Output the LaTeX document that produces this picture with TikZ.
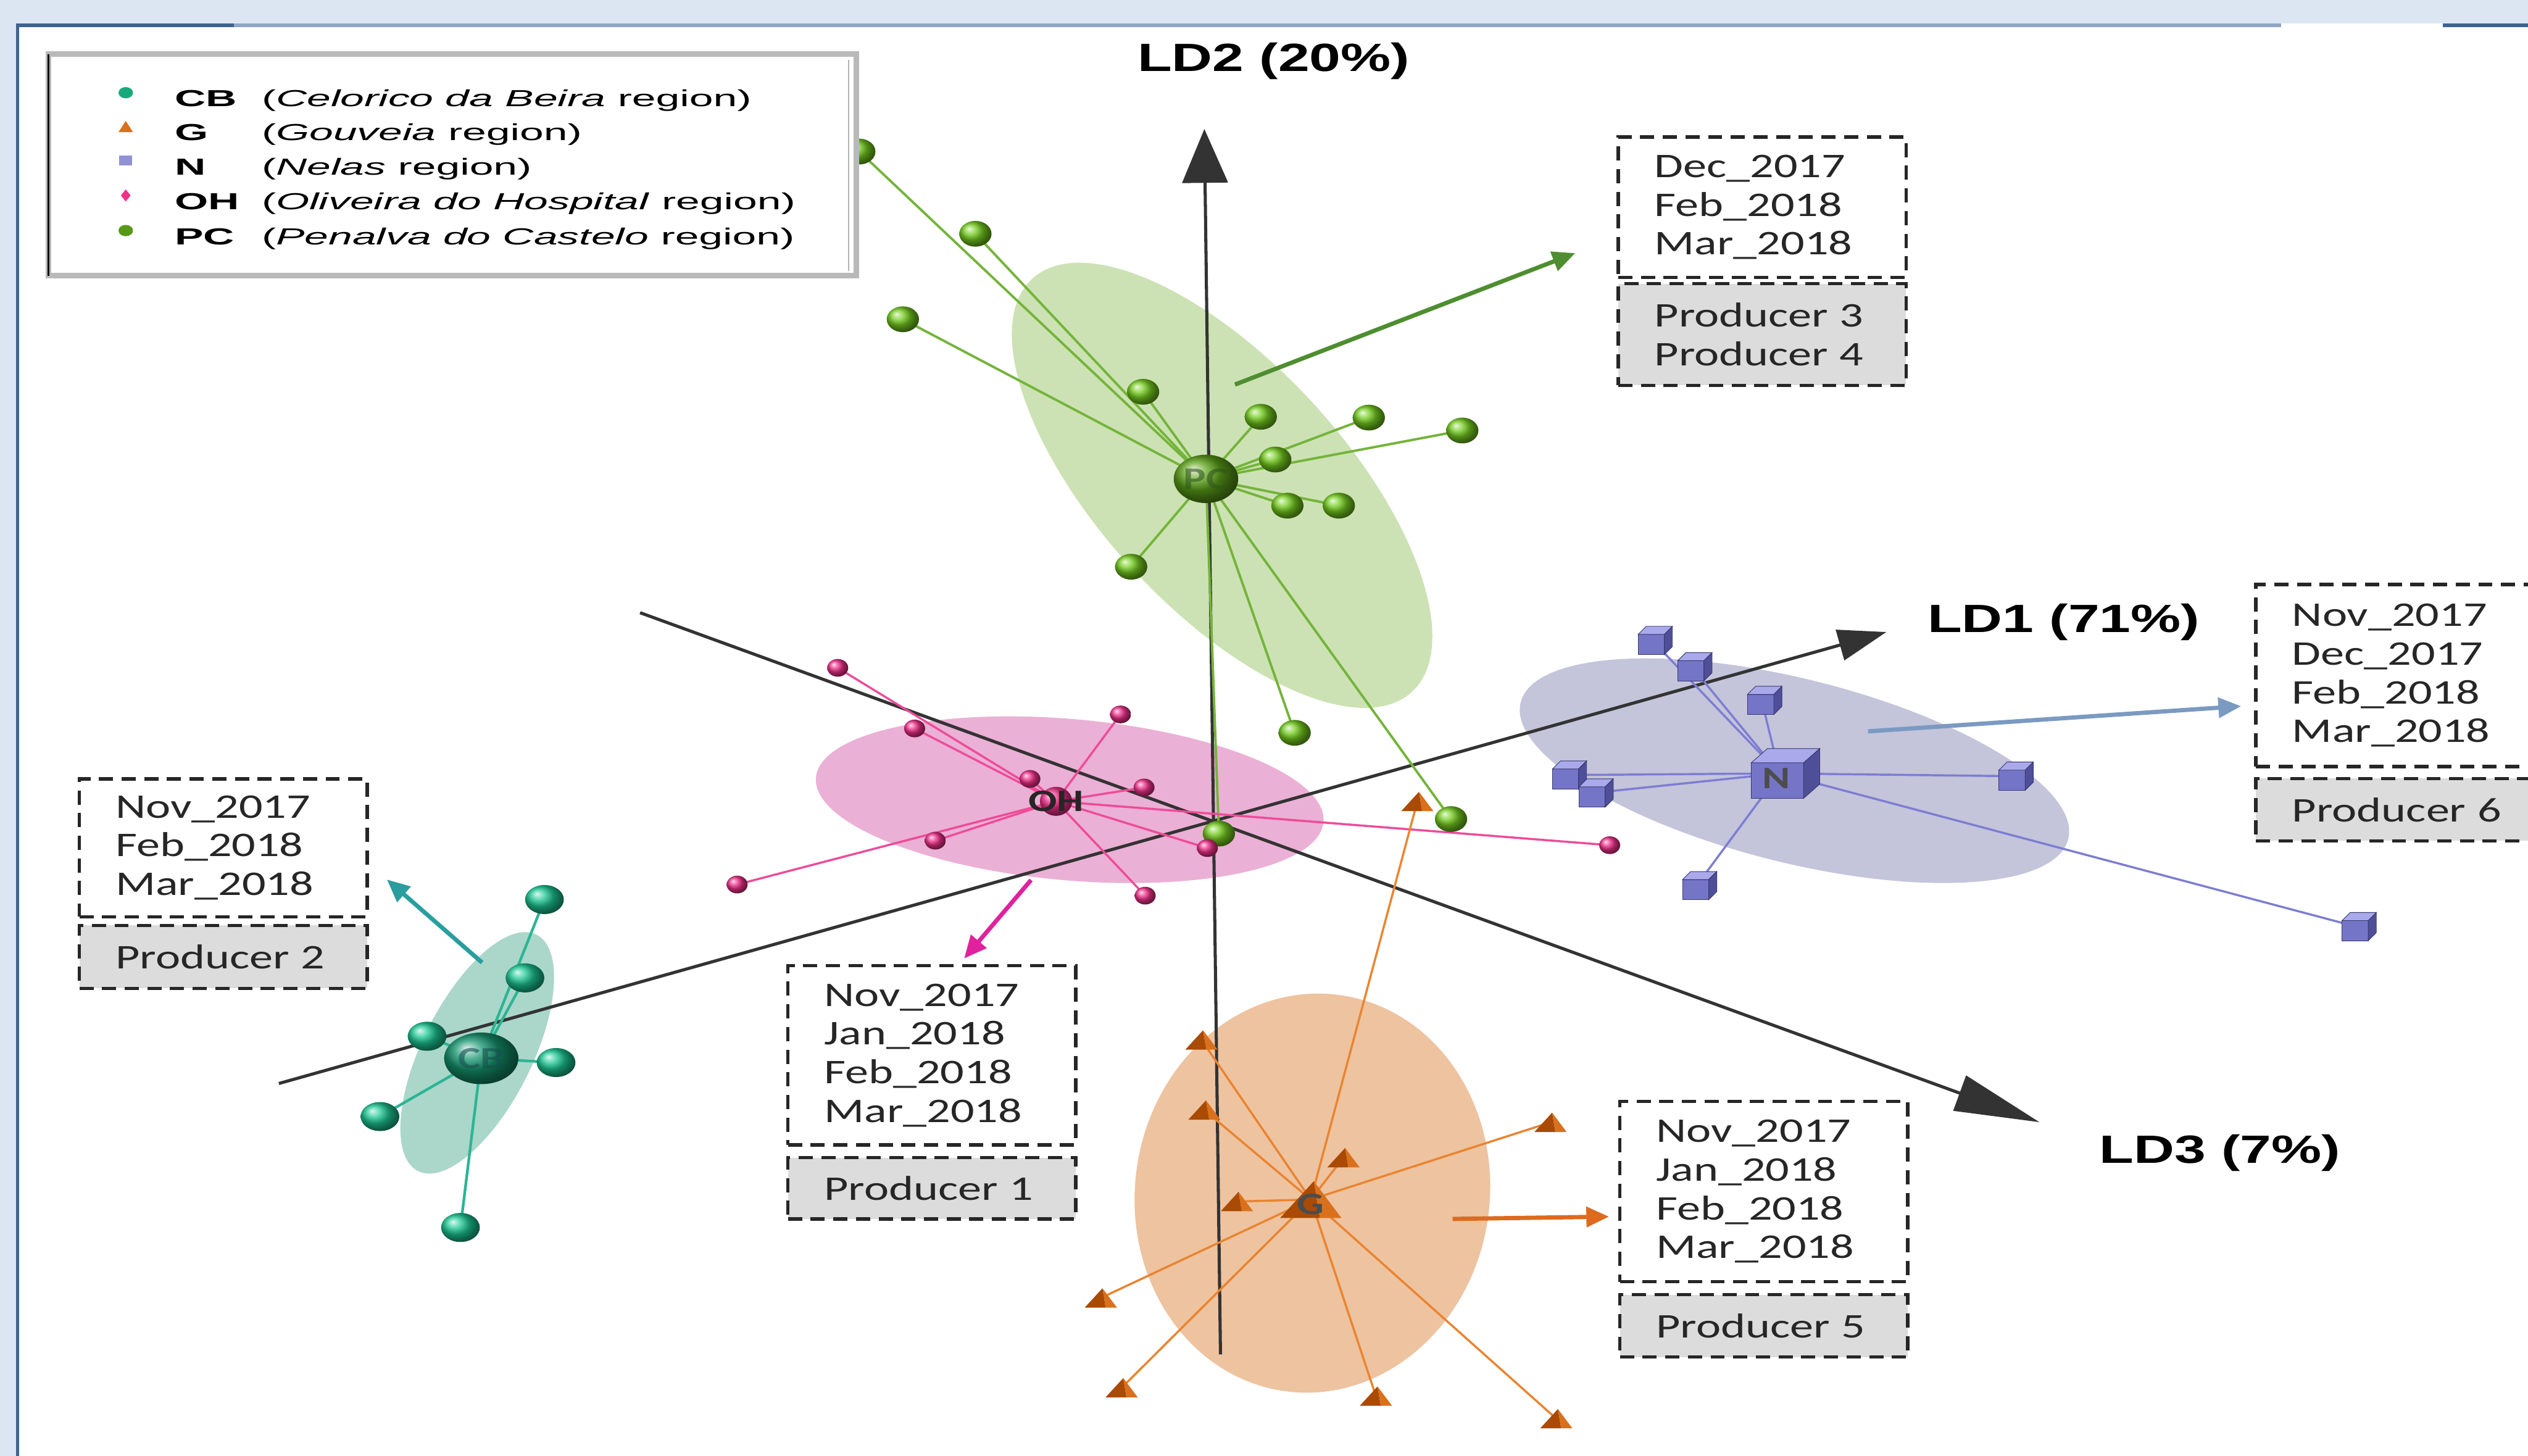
\documentclass[tikz,border=0pt]{standalone}
\usepackage{fontspec}
\setmainfont{Liberation Sans}
\newfontfamily\legfont[FakeStretch=1.85]{Liberation Sans}
\newfontfamily\axfont[FakeStretch=1.43]{Liberation Sans}
\newfontfamily\boxfont[FakeStretch=1.36]{Carlito}
\usetikzlibrary{arrows.meta,calc}
\definecolor{slideblue}{HTML}{DCE6F2}
\definecolor{framedark}{HTML}{3F6391}
\definecolor{framelight}{HTML}{8FA6C4}
\definecolor{pcfill}{HTML}{CCE2B4}
\definecolor{ohfill}{HTML}{EBB0D5}
\definecolor{nfill}{HTML}{C4C4DB}
\definecolor{gfill}{HTML}{EEC3A0}
\definecolor{cbfill}{HTML}{AAD7C9}
\definecolor{pcline}{HTML}{74B43A}
\definecolor{pcball}{HTML}{74CC1E}
\definecolor{pcarrow}{HTML}{4E8E30}
\definecolor{cbline}{HTML}{2DB495}
\definecolor{cbball}{HTML}{1BC792}
\definecolor{cbarrow}{HTML}{2A9E9E}
\definecolor{ohline}{HTML}{EE4B98}
\definecolor{ohball}{HTML}{F0308A}
\definecolor{oharrow}{HTML}{E0229E}
\definecolor{nline}{HTML}{7D7DD2}
\definecolor{cubefront}{HTML}{7575C8}
\definecolor{cubetop}{HTML}{A9A9EC}
\definecolor{cubeside}{HTML}{4F4F99}
\definecolor{narrow}{HTML}{7B9AC2}
\definecolor{gline}{HTML}{EA842F}
\definecolor{tridark}{HTML}{A94A05}
\definecolor{trilight}{HTML}{D9711C}
\definecolor{garrow}{HTML}{DE6A1E}
\definecolor{boxgray}{HTML}{DCDCDC}
\tikzset{
 cubepic/.pic={
   \fill[cubefront, draw=cubeside!70!black, line width=0.2pt] (-7,-3) rectangle (6,7);
   \fill[cubetop, draw=cubeside!70!black, line width=0.2pt] (-7,-3) -- (-3,-7) -- (10,-7) -- (6,-3) -- cycle;
   \fill[cubeside, draw=cubeside!70!black, line width=0.2pt] (6,-3) -- (10,-7) -- (10,3) -- (6,7) -- cycle;
 },
 tripic/.pic={
   \fill[tridark] (-10,6) -- (1,-6) -- (3,6) -- cycle;
   \fill[trilight] (3,6) -- (1,-6) -- (10,6) -- cycle;
 }
}
\begin{document}
\begin{tikzpicture}[x=0.2mm,y=-0.2mm,
 axisline/.style={draw=black!80, line width=1.1pt},
 pcedge/.style={draw=pcline, line width=0.85pt},
 cbedge/.style={draw=cbline, line width=0.95pt},
 ohedge/.style={draw=ohline, line width=0.75pt},
 nedge/.style={draw=nline, line width=0.75pt},
 gedge/.style={draw=gline, line width=0.75pt},
 prodarrow/.style={line width=1.5pt, -{Triangle[length=8pt,width=7pt]}},
 datebox/.style={draw=black!85, line width=1.2pt, dash pattern=on 5pt off 3pt, align=left, text width=76pt, inner xsep=12.8pt, inner ysep=0pt, font=\boxfont\fontsize{12.2}{13.65}\selectfont, text=black!85},
 prodbox/.style={datebox, fill=boxgray},
 legtext/.style={anchor=mid west, inner sep=0pt, font=\legfont\fontsize{8.2}{9}\selectfont},
 axlabel/.style={inner sep=0pt, font=\axfont\bfseries\fontsize{13.9}{16}\selectfont},
 ctrlabel/.style={inner sep=0pt, font=\boxfont\bfseries\fontsize{11}{12}\selectfont},
]
\useasboundingbox (0,0) rectangle (1568,903);
\clip (0,0) rectangle (1568,903);
% slide frame
\fill[white] (0,0) rectangle (1568,903);
\fill[slideblue] (0,0) rectangle (1568,14.5);
\fill[slideblue] (0,0) rectangle (10,903);
\fill[framedark] (10,14.5) rectangle (145,17);
\fill[framelight] (145,14.5) rectangle (1415,17);
\fill[framedark] (1515,14.5) rectangle (1568,17);
\fill[framedark] (10,14.5) rectangle (11.8,903);

% ---------- coordinates ----------
% PC
\coordinate (pcc) at (748,297);
\coordinate (pc1) at (533,94);
\coordinate (pc2) at (605,145);
\coordinate (pc3) at (560,198);
\coordinate (pc4) at (709,243);
\coordinate (pc5) at (782,258.5);
\coordinate (pc6) at (849,259);
\coordinate (pc7) at (907,267);
\coordinate (pc8) at (791,285);
\coordinate (pc9) at (798.5,313.6);
\coordinate (pc10) at (830.4,313.6);
\coordinate (pc11) at (701.6,351.5);
\coordinate (pc12) at (803,454.5);
\coordinate (pc13) at (900,508);
\coordinate (pc14) at (756,517);
% CB
\coordinate (cbc) at (298.5,656.4);
\coordinate (cb1) at (337.7,557.9);
\coordinate (cb2) at (325.6,606.5);
\coordinate (cb3) at (264.9,642.7);
\coordinate (cb4) at (344.9,659);
\coordinate (cb5) at (235.7,692.5);
\coordinate (cb6) at (285.6,761.3);
% OH
\coordinate (ohc) at (655,497);
\coordinate (oh1) at (519.6,414.2);
\coordinate (oh2) at (567.3,451.8);
\coordinate (oh3) at (695,443.1);
\coordinate (oh4) at (638.8,483.1);
\coordinate (oh5) at (709.6,488.4);
\coordinate (oh6) at (580.1,521.4);
\coordinate (oh7) at (457.2,548.6);
\coordinate (oh8) at (710.3,555.5);
\coordinate (oh9) at (748.9,526);
\coordinate (oh10) at (998.4,524.2);
% N
\coordinate (nc) at (1103.7,479.7);
\coordinate (n1) at (1024.8,397.2);
\coordinate (n2) at (1049.4,413.5);
\coordinate (n3) at (1092.7,434.4);
\coordinate (n4) at (971.6,480.7);
\coordinate (n5) at (988.1,491.8);
\coordinate (n6) at (1248.6,481.4);
\coordinate (n7) at (1052.3,549.3);
\coordinate (n8) at (1461.4,574.7);
% G
\coordinate (gc) at (813,744);
\coordinate (g1) at (745.2,645);
\coordinate (g2) at (747,688.5);
\coordinate (g3) at (833.3,718);
\coordinate (g4) at (767.2,745.2);
\coordinate (g5) at (961.7,696.1);
\coordinate (g6) at (879.1,497.1);
\coordinate (g7) at (682.8,805);
\coordinate (g8) at (695.7,860.7);
\coordinate (g9) at (853.4,865.9);
\coordinate (g10) at (965.3,879.9);

% ---------- ellipsoids ----------
\fill[pcfill, rotate around={-47.4:(758,301)}] (758,301) ellipse [x radius=174, y radius=76];
\fill[ohfill, rotate around={-5:(663.5,496)}] (663.5,496) ellipse [x radius=158, y radius=50];
\fill[nfill, rotate around={-14:(1113,478)}] (1113,478) ellipse [x radius=175, y radius=57];
\fill[gfill, rotate around={-8:(814,740)}] (814,740) ellipse [x radius=110, y radius=124];
\fill[cbfill, rotate around={63.4:(296,653)}] (296,653) ellipse [x radius=82, y radius=34];

% ---------- axes ----------
\coordinate (ld2a) at (757,840);
\coordinate (ld2b) at (747,80);
\coordinate (ld1a) at (173,672);
\coordinate (ld1b) at (1170,392);
\coordinate (ld3a) at (397,380);
\coordinate (ld3b) at (1265,696);
\draw[axisline, -{Triangle[length=19pt,width=16pt]}] (ld2a) -- (ld2b);
\draw[axisline, -{Triangle[length=17pt,width=11pt]}] (ld1a) -- (ld1b);
\draw[axisline, -{Triangle[length=30pt,width=13pt]}] (ld3a) -- (ld3b);

% ---------- cluster edges ----------
\foreach \i in {1,...,14} \draw[pcedge] (pcc) -- (pc\i);
\foreach \i in {1,...,6} \draw[cbedge] (cbc) -- (cb\i);
\foreach \i in {1,...,10} \draw[ohedge] (ohc) -- (oh\i);
\foreach \i in {1,...,8} \draw[nedge] (nc) -- (n\i);
\foreach \i in {1,...,10} \draw[gedge] (gc) -- (g\i);

% ---------- markers ----------
\foreach \i in {1,...,14} \shade[ball color=pcball] (pc\i) ellipse [x radius=10, y radius=8];
\foreach \i in {1,...,6} \shade[ball color=cbball] (cb\i) ellipse [x radius=12, y radius=9];
\foreach \i in {1,...,10} \shade[ball color=ohball] (oh\i) ellipse [x radius=6.5, y radius=5.5];
\foreach \i in {1,...,8} \pic[scale=1.25] at (n\i) {cubepic};
\foreach \i in {1,...,10} \pic at (g\i) {tripic};

% centroids
\shade[ball color=pcball!80!black] (pcc) ellipse [x radius=20, y radius=15];
\shade[ball color=cbball!75!black] (cbc) ellipse [x radius=23, y radius=16];
\shade[ball color=ohball] (ohc) ellipse [x radius=10, y radius=9];
\pic[xscale=2.5,yscale=2.2] at (nc) {cubepic};
\pic[scale=1.9] at (gc) {tripic};
\node[ctrlabel, text=pcarrow!60!black, opacity=0.6] (pclab) at (pcc) {PC};
\node[ctrlabel, text=cbarrow!50!black, opacity=0.6] (cblab) at (cbc) {CB};
\node[ctrlabel, text=black!85] (ohlab) at (ohc) {OH};
\node[ctrlabel, text=black!70] (nlab) at ($(nc)+(-2,3)$) {N};
\node[ctrlabel, text=black!70] (glab) at ($(gc)+(0,3)$) {G};

% ---------- producer boxes ----------
\node[datebox, minimum height=49.5pt] (p3d) at (1093,128.5) {Dec\_2017\\Feb\_2018\\Mar\_2018};
\node[prodbox, minimum height=35.9pt] (p3p) at (1093,207.5) {Producer 3\\Producer 4};
\node[datebox, minimum height=64.3pt] (p6d) at (1488.5,419) {Nov\_2017\\Dec\_2017\\Feb\_2018\\Mar\_2018};
\node[prodbox, minimum height=22pt] (p6p) at (1488.5,502.2) {Producer 6};
\node[datebox, minimum height=48.7pt] (p2d) at (138.5,525.8) {Nov\_2017\\Feb\_2018\\Mar\_2018};
\node[prodbox, minimum height=22.2pt] (p2p) at (138.5,593.5) {Producer 2};
\node[datebox, minimum height=63.2pt] (p1d) at (578,654.5) {Nov\_2017\\Jan\_2018\\Feb\_2018\\Mar\_2018};
\node[prodbox, minimum height=21.6pt] (p1p) at (578,737) {Producer 1};
\node[datebox, minimum height=63.7pt] (p5d) at (1094,739) {Nov\_2017\\Jan\_2018\\Feb\_2018\\Mar\_2018};
\node[prodbox, minimum height=22pt] (p5p) at (1094,822.3) {Producer 5};

% ---------- producer arrows ----------
\coordinate (pcas) at (766,238.5);
\coordinate (pcae) at (977,157);
\coordinate (ohas) at (639.5,545.8);
\coordinate (ohae) at (598,594.5);
\coordinate (cbas) at (299,597);
\coordinate (cbae) at (240,545.5);
\coordinate (nas) at (1158.7,453.6);
\coordinate (nae) at (1390,438);
\coordinate (gas) at (901,756);
\coordinate (gae) at (998,754.6);
\draw[prodarrow, pcarrow] (pcas) -- (pcae);
\draw[prodarrow, oharrow] (ohas) -- (ohae);
\draw[prodarrow, cbarrow] (cbas) -- (cbae);
\draw[prodarrow, narrow] (nas) -- (nae);
\draw[prodarrow, garrow] (gas) -- (gae);

% ---------- axis labels ----------
\node[axlabel] (ld2lab) at (790,38) {LD2 (20\%)};
\node[axlabel] (ld1lab) at (1280,386) {LD1 (71\%)};
\node[axlabel] (ld3lab) at (1377,715) {LD3 (7\%)};

% ---------- legend ----------
\fill[white] (30,33.5) rectangle (531,171);
\draw[gray!55, line width=2pt] (30,33.5) rectangle (531,171);
\draw[gray!60, line width=0.4pt] (526.5,37) -- (526.5,168);
\draw[black, line width=0.8pt] (30,33.5) -- (30,171);
\fill[cbball!85!black] (78,57.5) ellipse [x radius=4.5, y radius=3.5];
\fill[trilight] (73.5,82) -- (82.5,82) -- (78,75) -- cycle;
\fill[cubefront!80] (74,96.5) rectangle (82,102.5);
\fill[ohball] (78,117.5) -- (81,121.2) -- (78,125) -- (75,121.2) -- cycle;
\fill[pcball!75!black] (78,143) ellipse [x radius=4.5, y radius=3.5];
\node[legtext] (lcb) at (108,61.5) {\bfseries CB};
\node[legtext] (lcbt) at (162,61.5) {(\textit{Celorico da Beira} region)};
\node[legtext] (lg) at (108,82.5) {\bfseries G};
\node[legtext] (lgt) at (162,82.5) {(\textit{Gouveia} region)};
\node[legtext] (ln) at (108,104) {\bfseries N};
\node[legtext] (lnt) at (162,104) {(\textit{Nelas} region)};
\node[legtext] (loh) at (108,125.5) {\bfseries OH};
\node[legtext] (loht) at (162,125.5) {(\textit{Oliveira do Hospital} region)};
\node[legtext] (lpc) at (108,147) {\bfseries PC};
\node[legtext] (lpct) at (162,147) {(\textit{Penalva do Castelo} region)};
\end{tikzpicture}
\end{document}
